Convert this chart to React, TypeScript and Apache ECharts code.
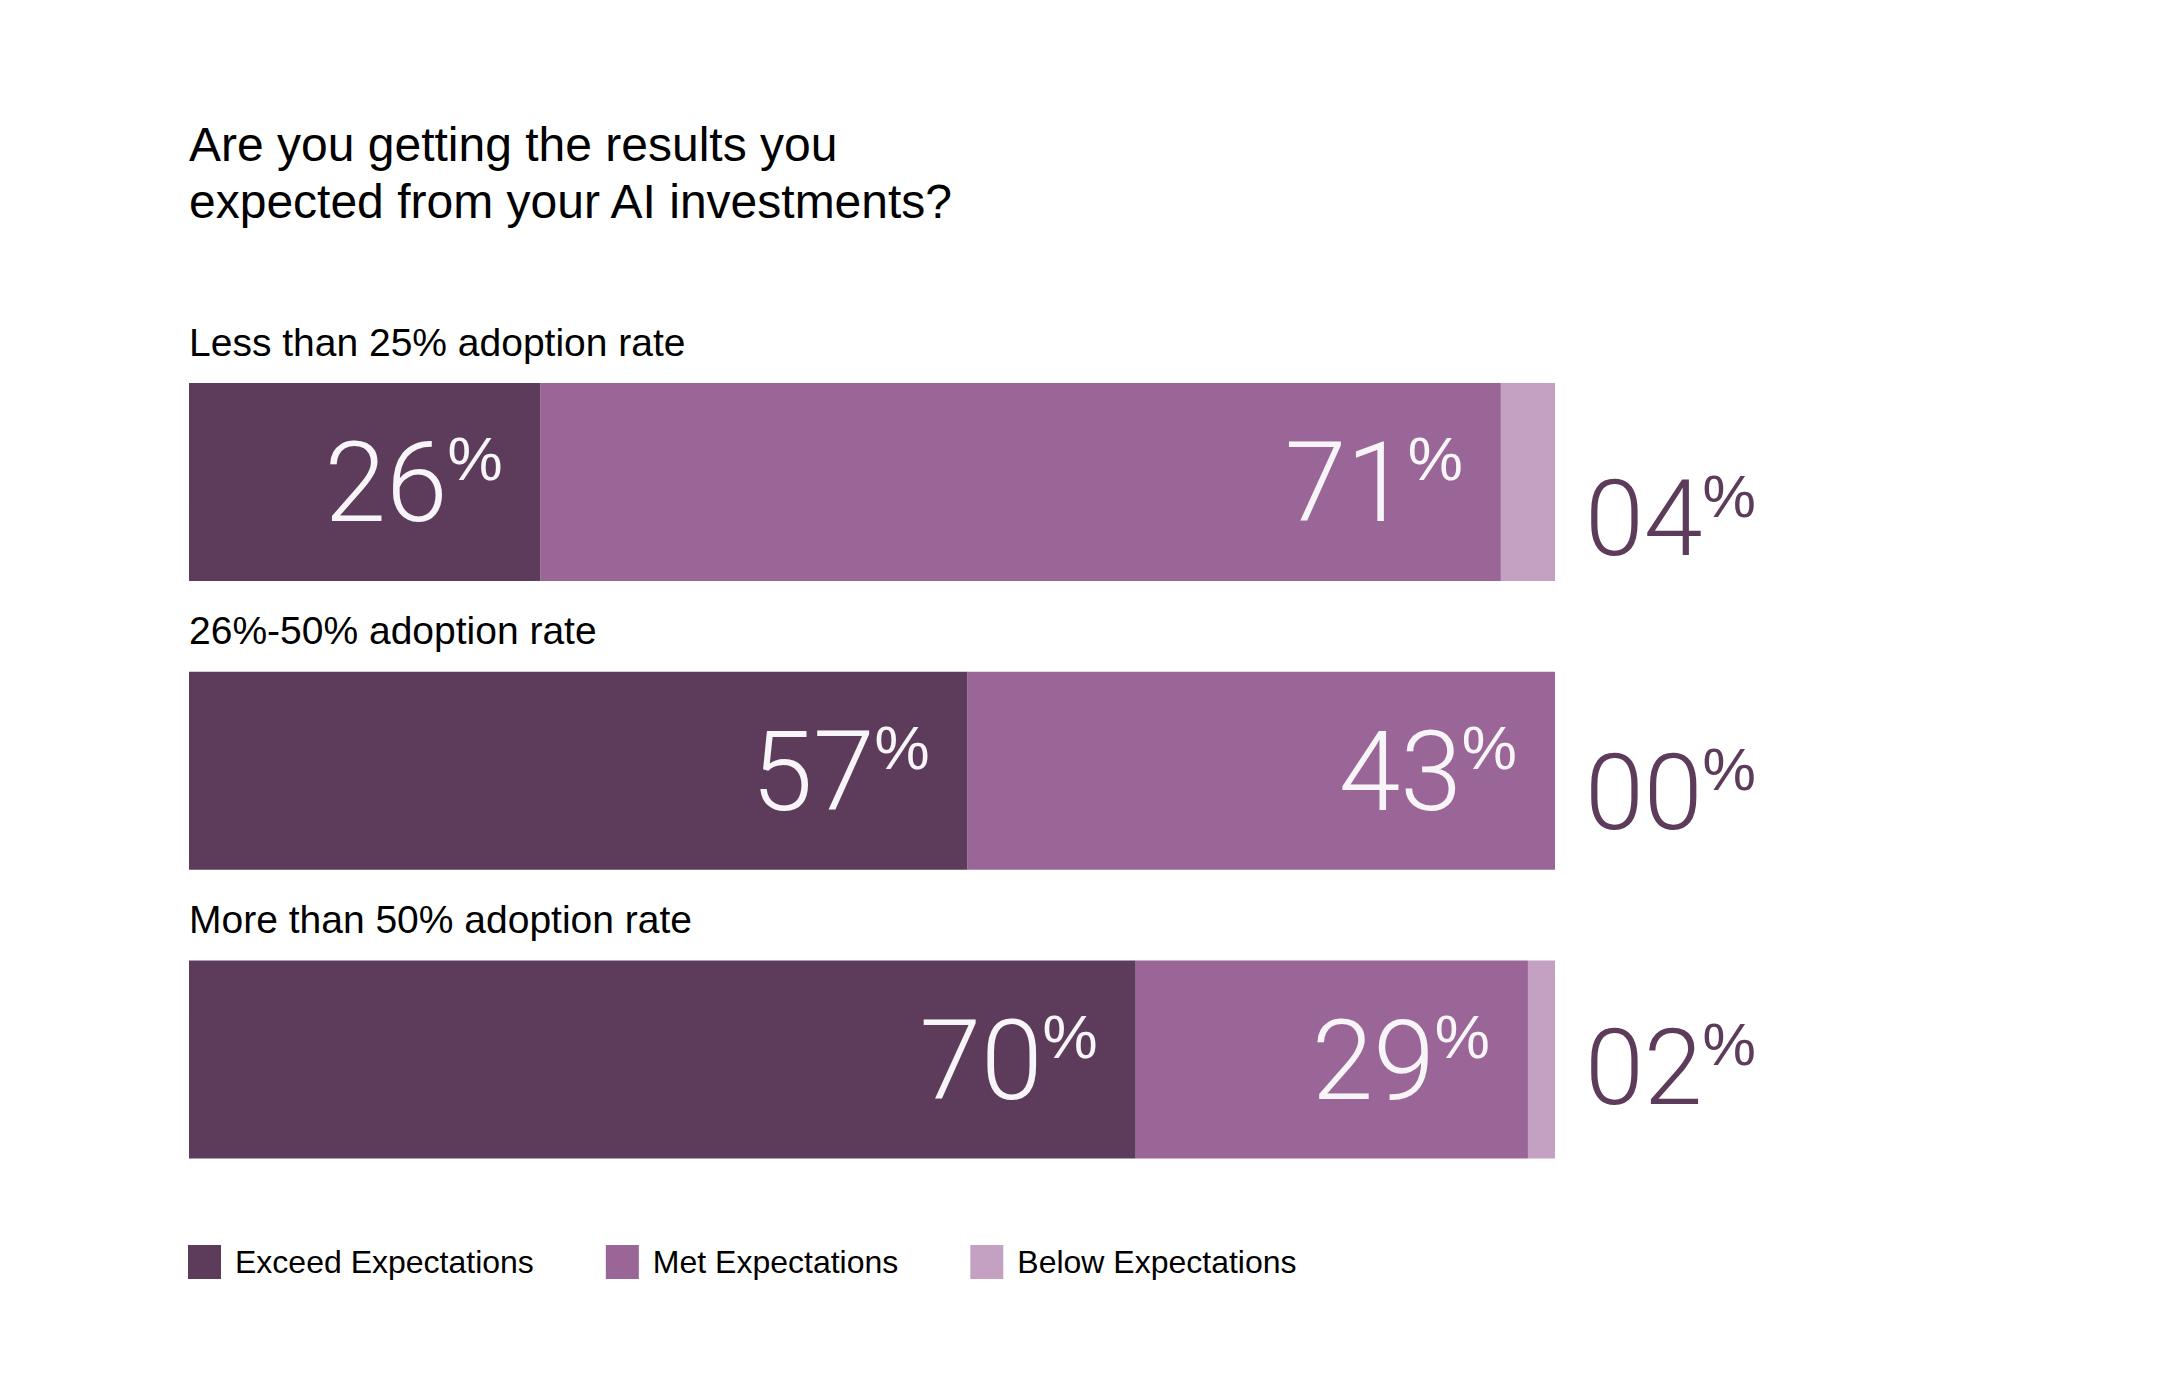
import React, { useEffect, useRef } from "react";
import * as echarts from "echarts";

const titleText = "Are you getting the results you\nexpected from your AI investments?";
const categories = [
  "Less than 25% adoption rate",
  "26%-50% adoption rate",
  "More than 50% adoption rate",
];
const seriesNames = ["Exceed Expectations", "Met Expectations", "Below Expectations"];
const exceed = [26, 57, 70];
const met = [71, 43, 29];
const below = [4, 0, 2];

// style constants (vertical nudge of the outside labels per row, px)
const OUTSIDE_DY = [37, 22, 8];
const COLORS = ["#5d3c5b", "#9a6697", "#c4a1c3"];
const TEXT_FONT = "Liberation Sans";
const NUM_FONT = "Roboto";

export default function App() {
  const ref = useRef<HTMLDivElement>(null);
  useEffect(() => {
    if (!ref.current) return;
    const chart = echarts.init(ref.current, null, { renderer: "svg" });
    const totals = categories.map((_, i) => exceed[i] + met[i] + below[i]);
    const norm = (arr: number[]) => arr.map((v, i) => (v / totals[i]) * 100);

    const rich = (color: string, big: number, small: number, smallLH: number) => ({
      n: { fontFamily: NUM_FONT, fontSize: big, fontWeight: 300, color, lineHeight: big },
      p: { fontFamily: TEXT_FONT, fontSize: small, fontWeight: 400, color, lineHeight: smallLH, verticalAlign: "top" },
    });
    const innerLabel = (raw: number[]) => ({
      show: true,
      position: "insideRight",
      distance: 38,
      offset: [0, 1],
      formatter: (p: any) => `{n|${raw[p.dataIndex]}}{p|%}`,
      rich: rich("#f7f5f8", 111, 62, 64),
    });

    const belowData = norm(below).map((v, i) => ({
      value: v,
      label: { offset: [0, OUTSIDE_DY[i]] },
    }));

    chart.setOption({
      animation: false,
      backgroundColor: "#ffffff",
      title: {
        text: titleText,
        left: 189,
        top: 116,
        padding: 0,
        textStyle: { fontFamily: TEXT_FONT, fontSize: 48, fontWeight: 400, color: "#000000", lineHeight: 57 },
      },
      legend: {
        left: 188,
        top: 1245,
        padding: 0,
        itemWidth: 33,
        itemHeight: 34,
        itemGap: 72,
        icon: "rect",
        data: seriesNames,
        textStyle: { fontFamily: TEXT_FONT, fontSize: 32, color: "#000000", padding: [0, 0, 0, 9] },
      },
      grid: { left: 189, right: 605, top: 337.6, bottom: 196, containLabel: false },
      xAxis: { type: "value", min: 0, max: 100, show: false },
      yAxis: {
        type: "category",
        data: categories,
        inverse: true,
        axisLine: { show: false },
        axisTick: { show: false },
        splitLine: { show: false },
        axisLabel: {
          interval: 0,
          align: "left",
          margin: 0,
          verticalAlign: "bottom",
          lineHeight: 40,
          padding: [0, 0, 120, 0],
          fontFamily: TEXT_FONT,
          fontSize: 39,
          color: "#000000",
        },
      },
      series: [
        {
          name: seriesNames[0],
          type: "bar",
          stack: "total",
          barWidth: 198,
          itemStyle: { color: COLORS[0] },
          label: innerLabel(exceed),
          data: norm(exceed),
        },
        {
          name: seriesNames[1],
          type: "bar",
          stack: "total",
          barWidth: 198,
          itemStyle: { color: COLORS[1] },
          label: innerLabel(met),
          data: norm(met),
        },
        {
          name: seriesNames[2],
          type: "bar",
          stack: "total",
          barWidth: 198,
          itemStyle: { color: COLORS[2] },
          label: {
            show: true,
            position: "right",
            distance: 30,
            formatter: (p: any) => `{n|${String(below[p.dataIndex]).padStart(2, "0")}}{p|%}`,
            rich: rich(COLORS[0], 106, 60, 62),
          },
          data: belowData,
        },
      ],
    });
    return () => chart.dispose();
  }, []);
  return (
    <div
      ref={ref}
      style={{ position: "fixed", left: 0, top: 0, width: 2160, height: 1400, background: "#fff" }}
    />
  );
}
